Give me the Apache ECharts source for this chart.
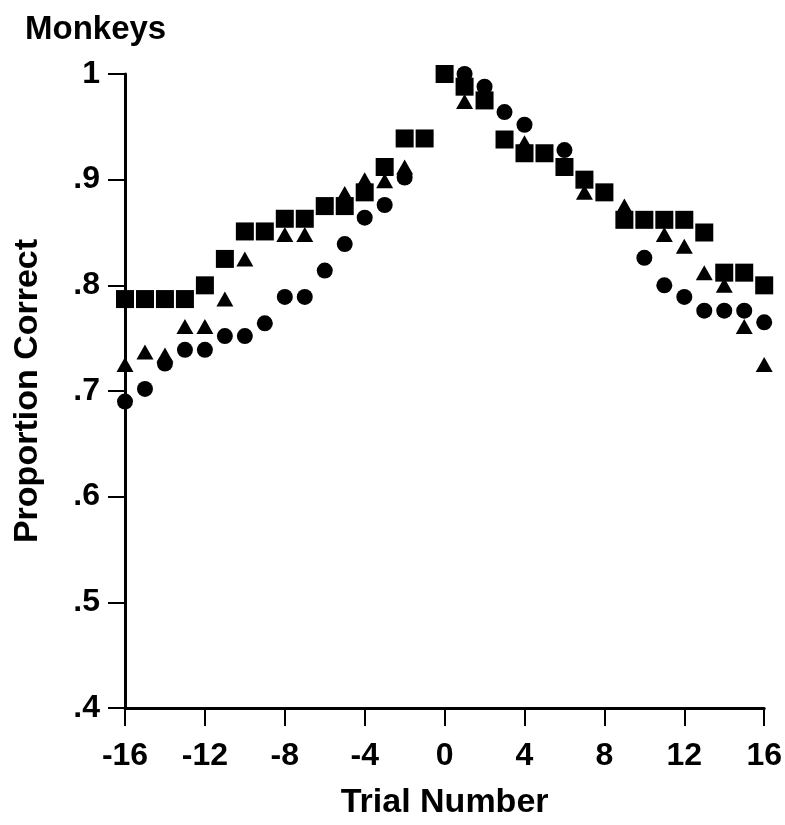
<!DOCTYPE html>
<html>
<head>
<meta charset="utf-8">
<script src="https://cdn.jsdelivr.net/npm/echarts@6/dist/echarts.min.js"></script>
<style>
  html, body { margin: 0; padding: 0; background: #fff; }
  #chart { width: 785px; height: 825px; }
</style>
</head>
<body>
<div id="chart"></div>
<script>
var trials = [-16, -15, -14, -13, -12, -11, -10, -9, -8, -7, -6, -5, -4, -3, -2, -1, 0,
  1, 2, 3, 4, 5, 6, 7, 8, 9, 10, 11, 12, 13, 14, 15, 16]
var squareData = [0.787, 0.787, 0.787, 0.787, 0.800, 0.825, 0.851, 0.851, 0.863, 0.863, 0.875, 0.875, 0.888, 0.912, 0.939, 0.939, 1.000,
  0.988, 0.975, 0.938, 0.925, 0.925, 0.912, 0.900, 0.888, 0.862, 0.862, 0.862, 0.862, 0.850, 0.812, 0.812, 0.800]
var triangleData = [0.725, 0.737, 0.734, 0.761, 0.761, 0.787, 0.825, 0.851, 0.848, 0.848, 0.875, 0.887, 0.900, 0.899, 0.912, 0.939, 1.000,
  0.974, 0.975, 0.937, 0.935, 0.925, 0.912, 0.888, 0.888, 0.875, 0.862, 0.848, 0.837, 0.812, 0.800, 0.761, 0.725]
var circleData = [0.690, 0.702, 0.726, 0.739, 0.739, 0.752, 0.752, 0.764, 0.789, 0.789, 0.814, 0.839, 0.864, 0.876, 0.902, 0.939, 1.000,
  1.000, 0.988, 0.964, 0.952, 0.925, 0.928, 0.900, 0.888, 0.862, 0.826, 0.800, 0.789, 0.776, 0.776, 0.776, 0.765]
var yTicks = { 0.4: '.4', 0.5: '.5', 0.6: '.6', 0.7: '.7', 0.8: '.8', 0.9: '.9', 1: '1' }

function pairs (vals) {
  return trials.map(function (t, i) { return [t, vals[i]] })
}

var font = '"Liberation Sans", Arial, sans-serif'
var chart = echarts.init(document.getElementById('chart'))
chart.setOption({
  animation: false,
  title: {
    text: 'Monkeys',
    left: 20,
    top: 8,
    textStyle: { fontFamily: font, fontSize: 33, fontWeight: 'bold', color: '#000' }
  },
  grid: { left: 125, top: 74, width: 640, height: 634 },
  xAxis: {
    type: 'value',
    min: -16,
    max: 16,
    interval: 4,
    name: 'Trial Number',
    nameLocation: 'middle',
    nameGap: 78,
    nameTextStyle: { fontFamily: font, fontSize: 34, fontWeight: 'bold', color: '#000' },
    axisLine: { onZero: false, lineStyle: { color: '#000', width: 3 } },
    axisTick: { show: true, length: 18, lineStyle: { color: '#000', width: 2 } },
    axisLabel: { margin: 32, fontFamily: font, fontSize: 32, fontWeight: 'bold', color: '#000' },
    splitLine: { show: false }
  },
  yAxis: {
    type: 'value',
    min: 0.4,
    max: 1,
    interval: 0.1,
    name: 'Proportion Correct',
    nameLocation: 'middle',
    nameGap: 80,
    nameTextStyle: { fontFamily: font, fontSize: 34, fontWeight: 'bold', color: '#000' },
    axisLine: { onZero: false, lineStyle: { color: '#000', width: 3 } },
    axisTick: { show: true, length: 17, lineStyle: { color: '#000', width: 2 } },
    axisLabel: {
      margin: 25,
      fontFamily: font,
      fontSize: 32,
      fontWeight: 'bold',
      color: '#000',
      formatter: function (v) {
        return yTicks[Math.round(v * 10) / 10] || ''
      }
    },
    splitLine: { show: false }
  },
  series: [{
    name: 'circle',
    type: 'scatter',
    symbol: 'circle',
    symbolSize: 16,
    itemStyle: { color: '#000', opacity: 1 },
    data: pairs(circleData)
  }, {
    name: 'triangle',
    type: 'scatter',
    symbol: 'triangle',
    symbolSize: [17, 15],
    itemStyle: { color: '#000', opacity: 1 },
    data: pairs(triangleData)
  }, {
    name: 'square',
    type: 'scatter',
    symbol: 'rect',
    symbolSize: 18,
    itemStyle: { color: '#000', opacity: 1 },
    data: pairs(squareData)
  }]
})
</script>
</body>
</html>
